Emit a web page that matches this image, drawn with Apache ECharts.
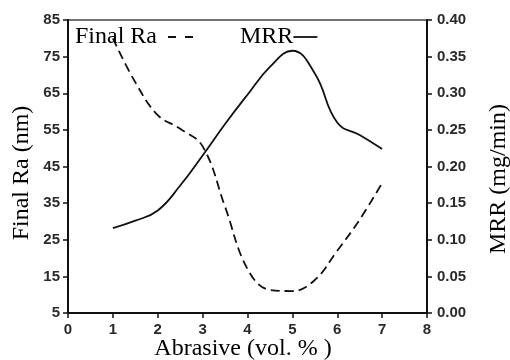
<!DOCTYPE html>
<html>
<head>
<meta charset="utf-8">
<script src="https://cdn.jsdelivr.net/npm/echarts@6/dist/echarts.min.js"></script>
<style>
  html, body { margin: 0; padding: 0; background: #fff; }
  #chart { width: 510px; height: 360px; }
</style>
</head>
<body>
<div id="chart"></div>
<script>
// Values
const abrasive = [1, 1.5, 2, 2.5, 3, 3.5, 4, 4.5, 5, 5.5, 6, 6.5, 7];
const finalRa = [80, 68, 59, 55.3, 50.5, 34, 17, 11.3, 11, 14, 22, 30.5, 40.5];
const mrr = [0.116, 0.126, 0.14, 0.174, 0.215, 0.258, 0.298, 0.336, 0.358, 0.327, 0.26, 0.243, 0.224];

const serif = '"Liberation Serif", "Times New Roman", serif';
const sans = '"Liberation Sans", Arial, sans-serif';

const chart = echarts.init(document.getElementById('chart'), null, { renderer: 'canvas' });

const axisCommon = {
    axisLine: { show: true, lineStyle: { color: '#111', width: 2 } },
    axisTick: { show: true, inside: false, length: 5, lineStyle: { color: '#111', width: 1.5 } },
    splitLine: { show: false },
    axisLabel: { color: '#2a2a2a', fontFamily: sans, fontSize: 15, fontWeight: 'bold' }
};

const option = {
    animation: false,
    backgroundColor: '#fff',
    color: ['#111', '#111'],
    grid: { left: 68, right: 83, top: 20, bottom: 47, show: true, borderColor: '#444', borderWidth: 1.5, backgroundColor: 'transparent' },
    legend: [
        {
            data: ['Final Ra'], left: 70, top: 20, align: 'right',
            itemWidth: 26, itemHeight: 14, itemGap: 0,
            itemStyle: { opacity: 0 },
            textStyle: { fontFamily: serif, fontSize: 24, color: '#000', padding: [0, 6, 0, 0] },
            lineStyle: { type: [8, 9], width: 1.8, color: '#111' }
        },
        {
            data: ['MRR'], left: 235, top: 20, align: 'right',
            itemWidth: 24, itemHeight: 14, itemGap: 0,
            itemStyle: { opacity: 0 },
            textStyle: { fontFamily: serif, fontSize: 24, color: '#000', padding: [0, -5, 0, 0] },
            lineStyle: { width: 1.8, color: '#111' }
        }
    ],
    xAxis: {
        ...axisCommon,
        type: 'value', min: 0, max: 8, interval: 1,
        axisLabel: { ...axisCommon.axisLabel, margin: 9 }
    },
    yAxis: [
        {
            ...axisCommon,
            type: 'value', min: 5, max: 85, interval: 10, position: 'left',
            axisLabel: { ...axisCommon.axisLabel, margin: 8 }
        },
        {
            ...axisCommon,
            type: 'value', min: 0, max: 0.4, interval: 0.05, position: 'right',
            axisLabel: { ...axisCommon.axisLabel, margin: 10, formatter: v => v.toFixed(2) }
        }
    ],
    graphic: [
        { type: 'text', x: 22, y: 173, rotation: Math.PI / 2,
          style: { text: 'Final Ra (nm)', fontFamily: serif, fontSize: 24, fill: '#000', align: 'center', verticalAlign: 'middle' } },
        { type: 'text', x: 499, y: 179, rotation: Math.PI / 2,
          style: { text: 'MRR (mg/min)', fontFamily: serif, fontSize: 24, fill: '#000', align: 'center', verticalAlign: 'middle' } },
        { type: 'text', x: 243, y: 349,
          style: { text: 'Abrasive (vol. % )', fontFamily: serif, fontSize: 24, fill: '#000', align: 'center', verticalAlign: 'middle' } }
    ],
    series: [
        {
            name: 'Final Ra', type: 'line', yAxisIndex: 0,
            data: abrasive.map((x, i) => [x, finalRa[i]]),
            smooth: 0.4, symbol: 'none',
            itemStyle: { color: '#111' },
            lineStyle: { color: '#111', width: 1.8, type: [9, 5] }
        },
        {
            name: 'MRR', type: 'line', yAxisIndex: 1,
            data: abrasive.map((x, i) => [x, mrr[i]]),
            smooth: 0.45, symbol: 'none',
            itemStyle: { color: '#111' },
            lineStyle: { color: '#111', width: 1.8 }
        }
    ]
};

chart.setOption(option);
</script>
</body>
</html>
